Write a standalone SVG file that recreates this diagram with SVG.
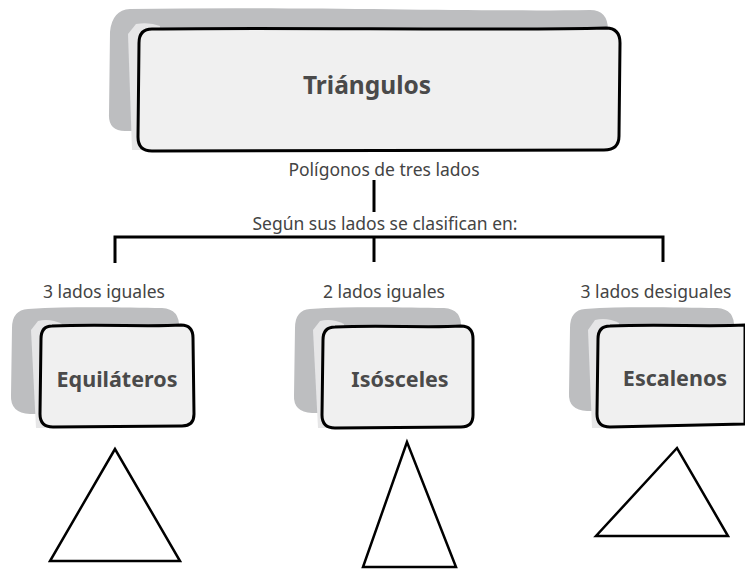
<svg xmlns="http://www.w3.org/2000/svg" width="745" height="571" viewBox="0 0 745 571">
<style>
.shadow{fill:#bdbec0;stroke:none}
.light{fill:#e6e6e7;stroke:none}
.front{fill:#f0f0f0;stroke:#000;stroke-width:3;stroke-linejoin:round}
.title{font-family:"Noto Sans","Liberation Sans",sans-serif;font-weight:700;fill:#4a4a4a;text-anchor:middle}
.lbl{font-family:"Noto Sans","Liberation Sans",sans-serif;font-size:17.5px;fill:#444;text-anchor:middle}
.conn{fill:none;stroke:#000;stroke-width:3;stroke-linecap:butt}
.tri{fill:#fff;stroke:#000;stroke-width:2.5;stroke-linejoin:miter}
</style>
<rect width="745" height="571" fill="#fff"/>
<g id="triangulos">
<path class="shadow" d="M130 9 C 300 6 480 12 590 10 Q 608 10 608 30 L 606 118 Q 605 133 590 133 L 125 131 Q 108 131 109 114 L 110 32 Q 112 10 130 9 Z"/>
<path class="light" d="M136 24 Q 150 22 160 26 L 150 150 L 132 150 L 128 34 Z"/>
<path class="front" d="M152 29 C 300 27 480 31 606 28 Q 620 28 620 43 L 619 136 Q 619 150 604 150 L 152 151 Q 138 151 138 137 L 139 43 Q 139 29 152 29 Z"/>
<text class="title" x="367" y="94" font-size="24.5">Triángulos</text>
</g>
<g id="label-poligonos"><text class="lbl" x="384" y="176">Polígonos de tres lados</text></g>
<g id="label-segun"><text class="lbl" x="385" y="230">Según sus lados se clasifican en:</text></g>
<g id="label-3iguales"><text class="lbl" x="104" y="298">3 lados iguales</text></g>
<g id="label-2iguales"><text class="lbl" x="384" y="298">2 lados iguales</text></g>
<g id="label-desiguales"><text class="lbl" x="656" y="298">3 lados desiguales</text></g>
<g id="connectors">
<path class="conn" d="M374 180 V212"/>
<path class="conn" d="M115 263 V237 H663 V262"/>
<path class="conn" d="M374 237 V262"/>
</g>
<g id="equilateros">
<path class="shadow" d="M28 309 C 80 306 130 308 162 308 Q 180 309 179 328 L 177 412 L 30 414 Q 10 413 11 395 L 12 328 Q 12 310 28 309 Z"/>
<path class="light" d="M38 321 Q 50 318 62 324 L 50 428 L 36 428 L 31 330 Z"/>
<path class="front" d="M52 326 C 100 324 150 327 181 325 Q 193 325 193 338 L 194 414 Q 194 426 182 426 L 53 427 Q 40 427 40 414 L 41 339 Q 41 326 52 326 Z"/>
<text class="title" x="117" y="387" font-size="21.5">Equiláteros</text>
</g>
<g id="isosceles">
<path class="shadow" d="M310 309 C 360 306 410 308 444 308 Q 462 309 461 328 L 459 412 L 312 413 Q 293 412 294 395 L 295 328 Q 295 310 310 309 Z"/>
<path class="light" d="M320 321 Q 332 318 344 324 L 332 428 L 318 428 L 313 330 Z"/>
<path class="front" d="M335 327 C 380 325 430 328 461 326 Q 473 326 473 339 L 473 415 Q 473 427 461 427 L 335 428 Q 322 428 322 415 L 323 340 Q 323 327 335 327 Z"/>
<text class="title" x="400" y="387" font-size="21.5">Isósceles</text>
</g>
<g id="escalenos">
<path class="shadow" d="M585 309 C 630 306 680 308 717 308 Q 735 309 734 328 L 732 410 L 587 411 Q 568 410 569 393 L 570 328 Q 570 310 585 309 Z"/>
<path class="light" d="M595 320 Q 607 317 619 323 L 607 428 L 592 428 L 588 330 Z"/>
<path class="front" d="M610 326 C 660 324 710 327 745 325 L 745 424 L 610 427 Q 597 427 597 414 L 598 339 Q 598 326 610 326 Z"/>
<text class="title" x="675" y="386" font-size="21.5">Escalenos</text>
</g>
<g id="triangle-equilatero"><polygon class="tri" points="115,449 50,561 180,561"/></g>
<g id="triangle-isosceles"><polygon class="tri" points="407,442 363,567 456,567"/></g>
<g id="triangle-escaleno"><polygon class="tri" points="677,448 596,536 728,536"/></g>
</svg>
